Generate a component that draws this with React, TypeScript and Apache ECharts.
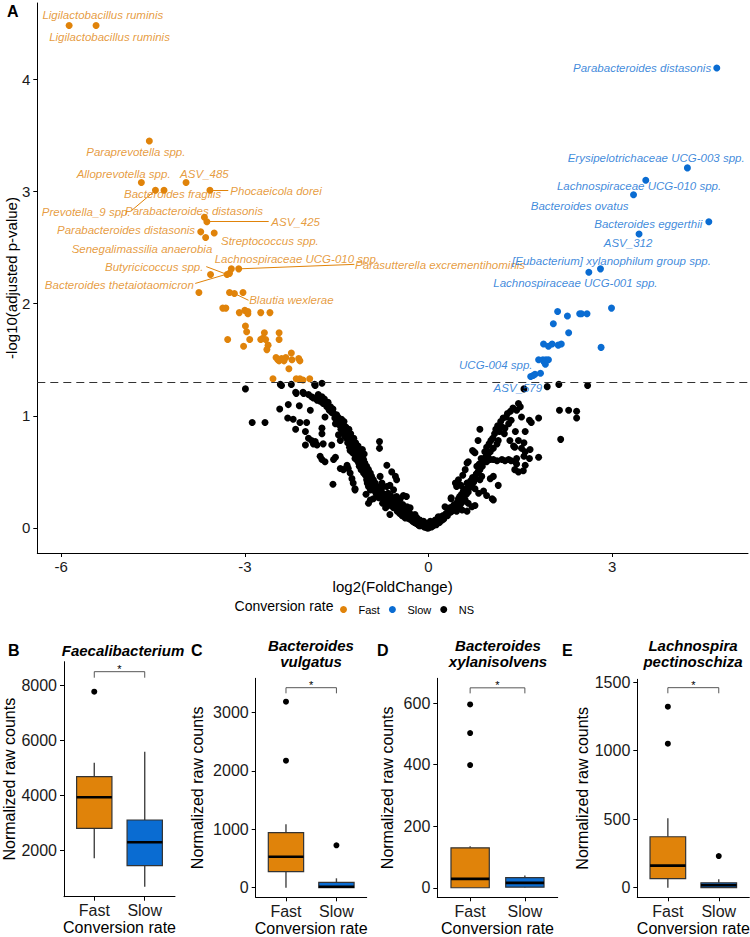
import React, { useEffect, useRef } from 'react';
import * as echarts from 'echarts';

const ORANGE = '#E0830A';
const BLUE = '#0A6CD2';
const FONT = '"Liberation Sans", Arial, Helvetica, sans-serif';

// ---------- Volcano data: [log2FC, -log10(padj)] ----------
const fastPoints: number[][] = [
  [-5.87, 4.48], [-5.43, 4.48], [-4.56, 3.45], [-4.69, 3.08], [-4.46, 3.01], [-4.32, 3.01], [-3.96, 3.08],
  [-3.57, 3.01], [-3.66, 2.77], [-3.62, 2.73], [-3.72, 2.64], [-3.50, 2.63], [-3.64, 2.59], [-3.56, 2.26],
  [-3.29, 2.26], [-3.25, 2.27], [-3.22, 2.31], [-3.10, 2.31], [-3.75, 2.10], [-3.25, 2.10], [-3.17, 2.09],
  [-3.03, 2.10], [-3.36, 1.96], [-3.31, 1.96], [-3.09, 1.92], [-3.00, 1.94], [-2.95, 1.91], [-2.74, 1.92],
  [-2.59, 1.92], [-2.99, 1.80], [-2.97, 1.75], [-2.92, 1.68], [-3.28, 1.68], [-3.02, 1.62], [-2.68, 1.74],
  [-2.74, 1.68], [-2.66, 1.68], [-2.62, 1.63], [-2.64, 1.59], [-2.44, 1.74], [-2.44, 1.68], [-2.49, 1.52],
  [-2.44, 1.49], [-2.40, 1.51], [-2.33, 1.52], [-2.24, 1.56], [-2.23, 1.50], [-2.28, 1.42], [-2.12, 1.51],
  [-2.10, 1.49], [-2.54, 1.33], [-2.16, 1.33], [-2.10, 1.33], [-1.94, 1.33], [-2.46, 1.50], [-2.36, 1.49],
  [-2.05, 1.32], [-2.71, 1.69], [-2.95, 1.93]
];

const slowPoints: number[][] = [
  [4.71, 4.10], [4.23, 3.21], [3.55, 3.10], [3.35, 2.97], [4.58, 2.73], [3.44, 2.62], [2.62, 2.28], [2.81, 2.31],
  [2.99, 1.96], [2.11, 1.93], [2.27, 1.89], [2.47, 1.91], [2.50, 1.91], [2.59, 1.91], [2.04, 1.82], [2.29, 1.74],
  [2.82, 1.61], [1.88, 1.64], [1.96, 1.62], [2.02, 1.64], [2.12, 1.63], [2.17, 1.64], [1.80, 1.50], [1.87, 1.50],
  [1.92, 1.50], [1.96, 1.50], [1.91, 1.46], [1.89, 1.48], [1.67, 1.35], [1.71, 1.36], [1.74, 1.37], [1.83, 1.38]
];

const nsPoints: number[][] = [
  [-2.99, 1.24], [-2.88, 0.94], [-2.67, 0.94], [-2.42, 1.28], [-2.24, 1.28], [-2.40, 1.27], [-1.85, 1.27],
  [-1.74, 1.29], [-1.86, 1.28], [-2.17, 1.21], [-2.05, 1.21], [-2.16, 1.20], [-2.04, 1.20], [-1.96, 1.19],
  [-1.91, 1.17], [-2.43, 1.06], [-2.29, 1.10], [-2.11, 1.09], [-1.88, 1.16], [-1.82, 1.14], [-1.77, 1.13],
  [-1.72, 1.11], [-1.74, 1.17], [-1.80, 1.19], [-1.93, 1.05], [-1.66, 1.08], [-1.62, 1.05], [-2.30, 0.98],
  [-2.21, 0.97], [-2.10, 0.94], [-1.99, 0.94], [-2.17, 0.88], [-2.01, 0.86], [-1.69, 0.99], [-1.74, 0.89],
  [-1.74, 0.84], [-1.50, 1.01], [-1.47, 0.96], [-1.52, 0.93], [-1.44, 0.93], [-1.39, 0.92], [-1.41, 0.89],
  [-1.36, 0.87], [-1.33, 0.86], [-1.47, 0.83], [-1.44, 0.78], [-1.96, 0.80], [-1.91, 0.78], [-1.85, 0.77],
  [-1.88, 0.75], [-1.82, 0.74], [-1.72, 0.75], [-2.01, 0.74], [-1.58, 0.74], [-1.31, 0.81], [-1.28, 0.77],
  [-1.25, 0.74], [-1.23, 0.71], [-1.28, 0.69], [-1.17, 0.69], [-0.80, 0.77], [-0.80, 0.71], [-1.77, 0.64],
  [-1.74, 0.61], [-1.69, 0.59], [-1.52, 0.63], [-1.55, 0.61], [-1.44, 0.53], [-1.39, 0.52], [-1.33, 0.56],
  [-1.31, 0.53], [-1.28, 0.49], [-1.25, 0.44], [-1.23, 0.40], [-1.20, 0.35], [-1.56, 0.39], [-1.12, 0.64],
  [-1.06, 0.61], [-1.04, 0.58], [-1.01, 0.55], [-1.09, 0.55], [-0.98, 0.52], [-0.95, 0.49], [-1.06, 0.49],
  [-0.93, 0.46], [-0.90, 0.43], [-1.01, 0.43], [-0.87, 0.40], [-0.98, 0.37], [-0.84, 0.37], [-0.95, 0.34],
  [-0.82, 0.34], [-0.79, 0.46], [-0.76, 0.40], [-0.74, 0.37], [-0.68, 0.37], [-0.63, 0.38], [-0.57, 0.34],
  [-0.68, 0.56], [-0.60, 0.50], [-0.54, 0.46], [-0.52, 0.43], [-0.41, 0.29], [-0.36, 0.28], [-0.46, 0.26],
  [-0.52, 0.28], [-0.63, 0.26], [-0.54, 0.24], [-0.49, 0.22], [-0.44, 0.19], [-0.35, 0.19], [-0.30, 0.18],
  [-0.38, 0.16], [-0.46, 0.15], [-0.25, 0.10], [-0.19, 0.09], [-0.14, 0.07], [-0.08, 0.06], [-0.03, 0.04],
  [-0.33, 0.10], [-0.27, 0.07], [-0.38, 0.09], [-0.63, 0.12], [-0.98, 0.22], [-1.20, 0.34], [-0.95, 0.25],
  [-1.55, 1.02], [-1.48, 0.99], [-1.42, 0.97], [-1.38, 0.95], [-1.35, 0.90], [-1.30, 0.88], [-1.27, 0.84],
  [-1.22, 0.80], [-1.19, 0.76], [-1.15, 0.73], [-1.12, 0.70], [-1.10, 0.67], [-1.16, 0.66], [-1.20, 0.62],
  [-1.08, 0.70], [-1.05, 0.66], [-1.14, 0.58], [-1.10, 0.52], [-1.03, 0.47], [-1.00, 0.40], [-0.92, 0.40],
  [-0.88, 0.33], [-0.85, 0.30], [-0.80, 0.29], [-0.77, 0.33], [-0.72, 0.30], [-0.70, 0.27], [-0.66, 0.31],
  [-0.62, 0.29], [-0.60, 0.24], [-0.58, 0.21], [-0.55, 0.27], [-0.50, 0.18], [-0.48, 0.25], [-0.42, 0.21],
  [-0.40, 0.14], [-0.36, 0.13], [-0.32, 0.15], [-0.28, 0.12], [-0.24, 0.08], [-0.22, 0.12], [-0.18, 0.06],
  [-0.16, 0.04], [-0.12, 0.05], [-0.10, 0.03], [-0.06, 0.02], [-0.04, 0.01], [-0.02, 0.00], [-0.01, 0.02],
  [-1.02, 0.30], [-0.90, 0.26], [-0.75, 0.22], [-0.70, 0.18], [-0.66, 0.20], [-0.07, 0.01], [-0.13, 0.02],
  [-1.70, 1.15], [-1.68, 1.10], [-1.64, 1.12], [-1.60, 1.08], [-1.58, 1.03], [-1.56, 1.06], [-1.53, 0.98],
  [-1.50, 0.96], [-1.46, 0.92], [-1.43, 0.88], [-1.40, 0.85], [-1.37, 0.82], [-1.34, 0.80], [-1.32, 0.76],
  [-1.29, 0.72], [-1.26, 0.70], [-1.24, 0.67], [-1.21, 0.66], [-1.18, 0.63], [-1.16, 0.60], [-1.13, 0.55],
  [-1.11, 0.60], [-1.07, 0.56], [-1.05, 0.52], [-1.02, 0.50], [-0.99, 0.47], [-0.96, 0.44], [-0.94, 0.41],
  [-0.91, 0.37], [-0.89, 0.36], [-0.86, 0.34], [-0.83, 0.31], [-0.81, 0.27], [-0.78, 0.30], [-0.75, 0.27],
  [-0.73, 0.25], [-0.69, 0.24], [-0.67, 0.22], [-0.64, 0.23], [-0.61, 0.20], [-0.57, 0.18], [-0.53, 0.20],
  [-0.51, 0.15], [-0.47, 0.13], [-0.45, 0.17], [-0.43, 0.11], [-0.39, 0.12], [-0.34, 0.09], [-0.31, 0.08],
  [-0.29, 0.10], [-0.26, 0.06], [-0.23, 0.05], [-0.20, 0.04], [-0.17, 0.03], [-0.15, 0.02],
  [1.94, 1.26], [2.13, 1.28], [2.60, 1.27], [2.14, 1.05], [2.29, 1.05], [2.42, 1.04], [2.42, 0.98],
  [2.16, 0.79], [1.80, 0.98], [1.80, 0.63], [1.47, 1.11], [1.50, 1.08], [1.44, 1.05], [1.52, 0.99],
  [1.65, 0.96], [1.68, 0.94], [1.58, 0.86], [1.42, 0.86], [1.33, 0.78], [1.47, 0.78], [1.56, 0.76],
  [1.41, 0.72], [1.52, 0.71], [1.58, 0.68], [1.66, 0.70], [1.56, 0.64], [1.65, 0.62], [1.41, 0.52],
  [1.47, 0.50], [1.55, 0.51], [1.58, 0.56], [1.25, 0.89], [1.24, 0.84], [1.20, 0.90], [1.35, 0.96],
  [1.31, 0.93], [1.14, 0.78], [1.12, 0.75], [1.06, 0.71], [1.01, 0.68], [0.97, 0.64], [0.84, 0.88],
  [0.81, 0.78], [0.74, 0.68], [0.76, 0.67], [0.93, 0.63], [0.90, 0.60], [0.95, 0.59], [1.01, 0.61],
  [1.06, 0.61], [1.12, 0.60], [1.20, 0.61], [1.25, 0.60], [1.31, 0.61], [1.35, 0.60], [1.42, 0.59],
  [1.44, 0.57], [0.65, 0.59], [0.81, 0.50], [0.76, 0.44], [0.84, 0.52], [0.56, 0.47], [0.63, 0.40],
  [0.71, 0.38], [0.46, 0.37], [0.53, 0.38], [0.57, 0.33], [0.65, 0.32], [0.76, 0.35], [0.82, 0.31],
  [0.90, 0.33], [0.95, 0.29], [1.04, 0.26], [1.14, 0.38], [1.06, 0.25], [0.37, 0.27], [0.49, 0.26],
  [0.55, 0.23], [0.60, 0.25], [0.65, 0.22], [0.71, 0.19], [0.76, 0.20], [0.27, 0.19], [0.35, 0.18],
  [0.41, 0.16], [0.46, 0.15], [0.16, 0.10], [0.22, 0.09], [0.11, 0.07], [0.03, 0.06], [0.55, 0.16],
  [0.63, 0.15], [0.84, 0.43], [0.87, 0.46], [0.60, 0.52], [0.49, 0.43], [0.44, 0.40], [1.01, 0.44],
  [1.06, 0.46], [1.39, 0.73], [1.44, 0.62], [0.05, 0.01], [0.11, 0.06], [0.22, 0.07], [0.38, 0.15],
  [0.52, 0.21], [0.57, 0.25], [0.72, 0.69], [0.63, 0.58], [0.37, 0.26], [-0.11, 0.04], [-0.05, 0.01],
  [0.00, 0.00], [0.07, 0.02], [0.13, 0.03], [0.18, 0.05], [0.09, 0.04], [1.56, 1.24],
  [0.02, 0.01], [0.04, 0.03], [0.06, 0.04], [0.08, 0.02], [0.10, 0.05], [0.12, 0.04], [0.14, 0.06],
  [0.15, 0.08], [0.19, 0.07], [0.20, 0.10], [0.24, 0.11], [0.25, 0.08], [0.29, 0.13], [0.31, 0.11],
  [0.33, 0.16], [0.36, 0.14], [0.39, 0.19], [0.42, 0.21], [0.44, 0.18], [0.47, 0.23], [0.50, 0.20],
  [0.51, 0.28], [0.54, 0.30], [0.58, 0.28], [0.61, 0.35], [0.62, 0.30], [0.67, 0.36], [0.69, 0.42],
  [0.72, 0.45], [0.74, 0.41], [0.78, 0.48], [0.79, 0.55], [0.83, 0.57], [0.86, 0.62], [0.88, 0.55],
  [0.92, 0.68], [0.95, 0.72], [0.99, 0.75], [1.02, 0.78], [1.05, 0.80], [1.08, 0.84], [1.10, 0.88],
  [1.13, 0.91], [1.16, 0.86], [1.18, 0.95], [1.22, 0.98], [1.27, 0.99], [1.29, 1.02], [1.34, 1.04],
  [1.38, 1.07]
];

const volcanoXTicks = [-6, -3, 0, 3];
const volcanoYTicks = [0, 1, 2, 3, 4];
const pThreshold = 1.301;

// label names and their placement (data coords of label centre)
const fastLabelNames = [
  'Ligilactobacillus ruminis', 'Ligilactobacillus ruminis', 'Paraprevotella spp.', 'Alloprevotella spp.',
  'ASV_485', 'Bacteroides fragilis', 'Phocaeicola dorei', 'Prevotella_9 spp.', 'Parabacteroides distasonis',
  'ASV_425', 'Parabacteroides distasonis', 'Streptococcus spp.', 'Senegalimassilia anaerobia',
  'Lachnospiraceae UCG-010 spp.', 'Butyricicoccus spp.', 'Bacteroides thetaiotaomicron',
  'Parasutterella excrementihominis', 'Blautia wexlerae'
];
const fastLabelPlaces = [
  [-5.32, 4.57], [-5.21, 4.38], [-4.78, 3.35], [-4.98, 3.16], [-3.66, 3.16], [-4.18, 2.98], [-2.49, 3.00],
  [-5.59, 2.82], [-3.83, 2.83], [-2.17, 2.73], [-4.94, 2.66], [-2.59, 2.56], [-4.68, 2.49], [-2.15, 2.40],
  [-4.48, 2.33], [-5.05, 2.17], [0.19, 2.34], [-2.24, 2.03]
];
const slowLabelNames = [
  'Parabacteroides distasonis', 'Erysipelotrichaceae UCG-003 spp.', 'Lachnospiraceae UCG-010 spp.',
  'Bacteroides ovatus', 'Bacteroides eggerthii', 'ASV_312', '[Eubacterium] xylanophilum group spp.',
  'Lachnospiraceae UCG-001 spp.', 'UCG-004 spp.', 'ASV_579'
];
const slowLabelPlaces = [
  [3.49, 4.10], [3.72, 3.30], [3.44, 3.05], [2.47, 2.87], [3.59, 2.71], [3.26, 2.54], [2.99, 2.38],
  [2.40, 2.18], [1.10, 1.45], [1.46, 1.25]
];
// leader segments: [from label edge, to point]
const fastLeaders = [
  [[-4.85, 2.83], [-4.46, 3.01]],
  [[-3.27, 3.01], [-3.57, 3.01]],
  [[-2.61, 2.73], [-3.62, 2.73]],
  [[-3.63, 2.33], [-3.29, 2.26]],
  [[-3.81, 2.18], [-3.25, 2.27]],
  [[-1.21, 2.35], [-3.10, 2.31]],
  [[-2.94, 2.03], [-3.17, 2.09]]
];

// ---------- Box plots ----------
const boxGroups = ['Fast', 'Slow'];
const boxLetters = ['B', 'C', 'D', 'E'];
const boxTitles = ['Faecalibacterium', 'Bacteroides\nvulgatus', 'Bacteroides\nxylanisolvens', 'Lachnospira\npectinoschiza'];
// [min, Q1, median, Q3, max] for Fast, Slow
const faecaliStats = [[1724, 2814, 3942, 4691, 5200], [691, 1455, 2305, 3116, 5600]];
const vulgatusStats = [[0, 274, 531, 942, 1086], [0, 0, 17, 92, 161]];
const xylanStats = [[0, 0, 29, 130, 135], [0, 2, 16, 33, 40]];
const lachnoStats = [[0, 66, 161, 372, 507], [0, 0, 18, 36, 61]];
const faecaliOutliers = [[1, 7781]];
const vulgatusOutliers = [[1, 3185], [1, 2175], [2, 726]];
const xylanOutliers = [[1, 596], [1, 503], [1, 399]];
const lachnoOutliers = [[1, 1321], [1, 1051], [2, 231]];
// significance bracket [top, tick end]
const faecaliBracket = [8509, 8290];
const vulgatusBracket = [3425, 3329];
const xylanBracket = [650, 632];
const lachnoBracket = [1460, 1419];
const faecaliTicks = [2000, 4000, 6000, 8000];
const vulgatusTicks = [0, 1000, 2000, 3000];
const xylanTicks = [0, 200, 400, 600];
const lachnoTicks = [0, 500, 1000, 1500];

const boxStatsAll = [faecaliStats, vulgatusStats, xylanStats, lachnoStats];
const boxOutliersAll = [faecaliOutliers, vulgatusOutliers, xylanOutliers, lachnoOutliers];
const bracketsAll = [faecaliBracket, vulgatusBracket, xylanBracket, lachnoBracket];
const boxTicksAll = [faecaliTicks, vulgatusTicks, xylanTicks, lachnoTicks];
const boxRanges = [[327, 8872], [-164, 3586], [-31, 681], [-70, 1521]];
const boxGrids = [
  { left: 64, top: 661.7, width: 111, height: 235 },
  { left: 255.7, top: 678.3, width: 111, height: 219 },
  { left: 437.3, top: 678.3, width: 120.4, height: 219 },
  { left: 637.3, top: 679.3, width: 112, height: 218 }
];
const boxNameGaps = [44, 50, 42, 46];
const boxTitleX = [123, 311, 498, 693];
const boxLetterX = [8, 191, 377, 562];

function buildOption(): any {
  const grids: any[] = [{ left: 37.3, top: 3, width: 710.7, height: 550, outerBoundsMode: 'none' }];
  const xAxes: any[] = [{
    gridIndex: 0, type: 'value', min: -6.39, max: 5.22,
    name: 'log2(FoldChange)', nameLocation: 'middle', nameGap: 24,
    nameTextStyle: { fontSize: 15, color: '#000', fontFamily: FONT },
    axisLine: { show: true, onZero: false, lineStyle: { color: '#000', width: 1 } },
    axisTick: { show: true, length: 4, lineStyle: { color: '#000' }, customValues: volcanoXTicks },
    axisLabel: { fontSize: 15, color: '#1a1a1a', margin: 6, customValues: volcanoXTicks, fontFamily: FONT },
    splitLine: { show: false }
  }];
  const yAxes: any[] = [{
    gridIndex: 0, type: 'value', min: -0.223, max: 4.68,
    name: '-log10(adjusted p-value)', nameLocation: 'middle', nameGap: 18, nameRotate: 90,
    nameMoveOverlap: false,
    nameTextStyle: { fontSize: 15, color: '#000', fontFamily: FONT },
    axisLine: { show: true, onZero: false, lineStyle: { color: '#000', width: 1 } },
    axisTick: { show: true, length: 4, lineStyle: { color: '#000' }, customValues: volcanoYTicks },
    axisLabel: { fontSize: 15, color: '#1a1a1a', margin: 7, customValues: volcanoYTicks, fontFamily: FONT },
    splitLine: { show: false }
  }];

  const series: any[] = [
    {
      name: 'NS', type: 'scatter', xAxisIndex: 0, yAxisIndex: 0, data: nsPoints, symbolSize: 7,
      itemStyle: { color: '#000', opacity: 1 }, z: 2,
      markLine: {
        silent: true, symbol: 'none', label: { show: false },
        lineStyle: { color: '#333', width: 1.2, type: [8, 5] },
        data: [{ yAxis: pThreshold }]
      }
    },
    { name: 'Fast', type: 'scatter', xAxisIndex: 0, yAxisIndex: 0, data: fastPoints, symbolSize: 7, itemStyle: { color: ORANGE, opacity: 1 }, z: 3 },
    { name: 'Slow', type: 'scatter', xAxisIndex: 0, yAxisIndex: 0, data: slowPoints, symbolSize: 7, itemStyle: { color: BLUE, opacity: 1 }, z: 3 },
    {
      type: 'lines', coordinateSystem: 'cartesian2d', xAxisIndex: 0, yAxisIndex: 0, polyline: false, silent: true,
      lineStyle: { color: ORANGE, width: 1, opacity: 1 }, z: 4,
      data: fastLeaders.map((c) => ({ coords: c }))
    },
    {
      type: 'scatter', xAxisIndex: 0, yAxisIndex: 0, symbolSize: 0, silent: true, z: 5,
      data: fastLabelPlaces.map((p, i) => ({ value: p, name: fastLabelNames[i] })),
      label: { show: true, position: 'inside', formatter: '{b}', color: ORANGE, fontSize: 11.5, fontStyle: 'italic', fontFamily: FONT }
    },
    {
      type: 'scatter', xAxisIndex: 0, yAxisIndex: 0, symbolSize: 0, silent: true, z: 5,
      data: slowLabelPlaces.map((p, i) => ({ value: p, name: slowLabelNames[i] })),
      label: { show: true, position: 'inside', formatter: '{b}', color: BLUE, fontSize: 11.5, fontStyle: 'italic', fontFamily: FONT }
    }
  ];

  const graphics: any[] = [
    { type: 'text', left: 7, top: 3, style: { text: 'A', fontSize: 16, fontWeight: 'bold', fill: '#000', fontFamily: FONT } },
    { type: 'text', x: 284, y: 606, style: { text: 'Conversion rate', fontSize: 14, fill: '#000', align: 'center', verticalAlign: 'middle', fontFamily: FONT } }
  ];

  boxGrids.forEach((g, k) => {
    const gi = k + 1;
    grids.push({ ...g, outerBoundsMode: 'none' });
    xAxes.push({
      gridIndex: gi, type: 'value', min: 0.4, max: 2.6,
      name: 'Conversion rate', nameLocation: 'middle', nameGap: 22,
      nameTextStyle: { fontSize: 16, color: '#000', fontFamily: FONT },
      axisLine: { show: true, onZero: false, lineStyle: { color: '#000', width: 1 } },
      axisTick: { show: true, length: 4, lineStyle: { color: '#000' }, customValues: [1, 2] },
      axisLabel: {
        fontSize: 16, color: '#1a1a1a', margin: 6, customValues: [1, 2], fontFamily: FONT,
        formatter: (v: number) => boxGroups[Math.round(v) - 1] || ''
      },
      splitLine: { show: false }
    });
    const ticks = boxTicksAll[k];
    yAxes.push({
      gridIndex: gi, type: 'value', min: boxRanges[k][0], max: boxRanges[k][1],
      name: 'Normalized raw counts', nameLocation: 'middle', nameGap: boxNameGaps[k], nameRotate: 90,
      nameTextStyle: { fontSize: 16, color: '#000', fontFamily: FONT },
      axisLine: { show: true, onZero: false, lineStyle: { color: '#000', width: 1 } },
      axisTick: { show: true, length: 4, lineStyle: { color: '#000' }, customValues: ticks },
      axisLabel: { fontSize: 16, color: '#1a1a1a', margin: 7, customValues: ticks, fontFamily: FONT, formatter: (v: number) => String(v) },
      splitLine: { show: false }
    });
    const stats = boxStatsAll[k];
    series.push({
      type: 'custom', xAxisIndex: gi, yAxisIndex: gi, silent: true, z: 3,
      data: stats.map((s, i) => [i + 1, ...s]),
      encode: { x: 0, y: [1, 2, 3, 4, 5] },
      renderItem: (params: any, api: any) => {
        const x = api.value(0);
        const lo = api.coord([x, api.value(1)]);
        const q1 = api.coord([x, api.value(2)]);
        const md = api.coord([x, api.value(3)]);
        const q3 = api.coord([x, api.value(4)]);
        const hi = api.coord([x, api.value(5)]);
        const w = api.size([0.7, 0])[0];
        const color = params.dataIndex === 0 ? ORANGE : BLUE;
        return {
          type: 'group',
          children: [
            { type: 'line', shape: { x1: hi[0], y1: hi[1], x2: q3[0], y2: q3[1] }, style: { stroke: '#444', lineWidth: 1.4 } },
            { type: 'line', shape: { x1: lo[0], y1: lo[1], x2: q1[0], y2: q1[1] }, style: { stroke: '#444', lineWidth: 1.4 } },
            { type: 'rect', shape: { x: q3[0] - w / 2, y: q3[1], width: w, height: Math.max(q1[1] - q3[1], 0.5) }, style: { fill: color, stroke: '#333', lineWidth: 1.2 } },
            { type: 'line', shape: { x1: md[0] - w / 2, y1: md[1], x2: md[0] + w / 2, y2: md[1] }, style: { stroke: '#000', lineWidth: 2.6 } }
          ]
        };
      }
    });
    series.push({
      type: 'scatter', xAxisIndex: gi, yAxisIndex: gi, data: boxOutliersAll[k], symbolSize: 6,
      itemStyle: { color: '#000', opacity: 1 }, silent: true, z: 4
    });
    const br = bracketsAll[k];
    series.push({
      type: 'custom', xAxisIndex: gi, yAxisIndex: gi, silent: true, z: 4,
      data: [[1, 2, br[0], br[1]]],
      encode: { x: [0, 1], y: [2, 3] },
      renderItem: (params: any, api: any) => {
        const a = api.coord([api.value(0), api.value(3)]);
        const b = api.coord([api.value(0), api.value(2)]);
        const c = api.coord([api.value(1), api.value(2)]);
        const d = api.coord([api.value(1), api.value(3)]);
        return {
          type: 'group',
          children: [
            { type: 'polyline', shape: { points: [a, b, c, d] }, style: { stroke: '#444', lineWidth: 0.9, fill: 'none' } },
            { type: 'text', x: (b[0] + c[0]) / 2, y: b[1] + 3, style: { text: '*', fontSize: 11, fill: '#000', align: 'center', verticalAlign: 'bottom', fontFamily: FONT } }
          ]
        };
      }
    });
    graphics.push({ type: 'text', x: boxLetterX[k], y: 642, style: { text: boxLetters[k], fontSize: 16, fontWeight: 'bold', fill: '#000', fontFamily: FONT } });
    graphics.push({
      type: 'text', x: boxTitleX[k], y: k === 0 ? 650 : 653,
      style: { text: boxTitles[k], fontSize: 15, fontWeight: 'bold', fontStyle: 'italic', fill: '#000', align: 'center', verticalAlign: 'middle', lineHeight: 16, fontFamily: FONT }
    });
  });

  return {
    animation: false,
    backgroundColor: '#fff',
    textStyle: { fontFamily: FONT },
    grid: grids,
    xAxis: xAxes,
    yAxis: yAxes,
    legend: {
      data: ['Fast', 'Slow', 'NS'], left: 335, top: 599, icon: 'circle', itemWidth: 20, itemHeight: 7,
      itemGap: 9, textStyle: { fontSize: 11, color: '#000', fontFamily: FONT }, selectedMode: false
    },
    graphic: graphics,
    series
  };
}

export default function App() {
  const ref = useRef<HTMLDivElement>(null);
  useEffect(() => {
    if (!ref.current) return;
    const chart = echarts.init(ref.current, undefined, { renderer: 'svg' });
    chart.setOption(buildOption());
    return () => chart.dispose();
  }, []);
  return <div ref={ref} style={{ position: 'absolute', left: 0, top: 0, width: 750, height: 937 }} />;
}
